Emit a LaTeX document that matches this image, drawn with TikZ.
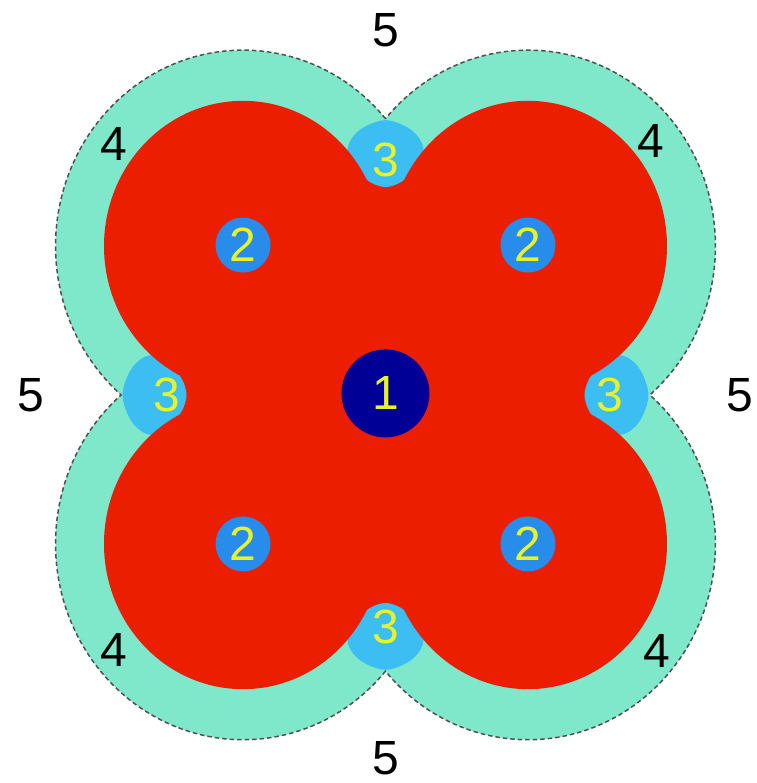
\documentclass[tikz,border=0pt]{standalone}
\usepackage{fontspec}
\setmainfont{Liberation Sans}
\definecolor{tealzone}{RGB}{128,232,202}
\definecolor{redzone}{RGB}{236,30,0}
\definecolor{cyanzone}{RGB}{60,190,242}
\definecolor{bluezone}{RGB}{40,140,235}
\definecolor{navyzone}{RGB}{0,0,150}
\definecolor{yeltext}{RGB}{232,242,40}
\definecolor{dashgray}{RGB}{80,80,80}
\newcommand\myoutline{(0,264.4) arc[start angle=40.55,end angle=229.45,radius=187.5]
  arc[start angle=130.55,end angle=319.45,radius=187.5]
  arc[start angle=220.55,end angle=409.45,radius=187.5]
  arc[start angle=310.55,end angle=499.45,radius=187.5] -- cycle}
\newcommand\myblob{plot[smooth cycle, tension=0.6] coordinates {(0,263) (17,258.5) (30,250) (37.5,238) (37,225) (30,215) (21,207.5) (12,202) (0,199) (-12,202) (-21,207.5) (-30,215) (-37,225) (-37.5,238) (-30,250) (-17,258.5)}}
\begin{document}
\begin{tikzpicture}[x=1pt,y=1pt,yscale=1.045,
  digit/.style={font=\fontsize{48}{48}\selectfont, inner sep=0pt},
  darkdigit/.style={digit, text=black},
  yeldigit/.style={digit, text=yeltext},
  zonetwo/.style={yeldigit, circle, fill=bluezone, minimum size=55pt},
  zoneone/.style={yeldigit, circle, fill=navyzone, minimum size=88pt}]
\useasboundingbox (-385.5,-371.3) rectangle (371.5,378);
% zone 4 (teal)
\fill[tealzone] \myoutline;
% red centre
\fill[redzone] (0,240) -- (240,0) -- (0,-240) -- (-240,0) -- cycle;
% zone 3 blobs
\foreach \a in {0,90,180,270}
  \fill[cyanzone, rotate=\a] \myblob;
% red lobes
\foreach \sx/\sy in {-1/1,1/1,-1/-1,1/-1}
  \fill[redzone] (\sx*142.5,\sy*142.5) circle[radius=139];
% dashed outline
\draw[dashgray, line width=1.5pt, dash pattern=on 4.5pt off 3pt] \myoutline;
% zone 2 and 1
\node[zonetwo] (twotl) at (-142.5,143.5) {2};
\node[zonetwo] (twotr) at (142.5,143.5) {2};
\node[zonetwo] (twobl) at (-142.5,-142.5) {2};
\node[zonetwo] (twobr) at (142.5,-142.5) {2};
\node[zoneone] (one) at (0,1.5) {1};
% zone 3 labels
\node[yeldigit] (threet) at (0,225) {3};
\node[yeldigit] (threeb) at (0,-222) {3};
\node[yeldigit] (threel) at (-219,0) {3};
\node[yeldigit] (threer) at (224,0) {3};
% zone 4 labels
\node[darkdigit] (fourtl) at (-272,240) {4};
\node[darkdigit] (fourtr) at (265,243) {4};
\node[darkdigit] (fourbl) at (-272,-244) {4};
\node[darkdigit] (fourbr) at (271,-245) {4};
% zone 5 labels
\node[darkdigit] (fivet) at (0,349) {5};
\node[darkdigit] (fiveb) at (0,-348) {5};
\node[darkdigit] (fivel) at (-355,0) {5};
\node[darkdigit] (fiver) at (354,0) {5};
\end{tikzpicture}
\end{document}
